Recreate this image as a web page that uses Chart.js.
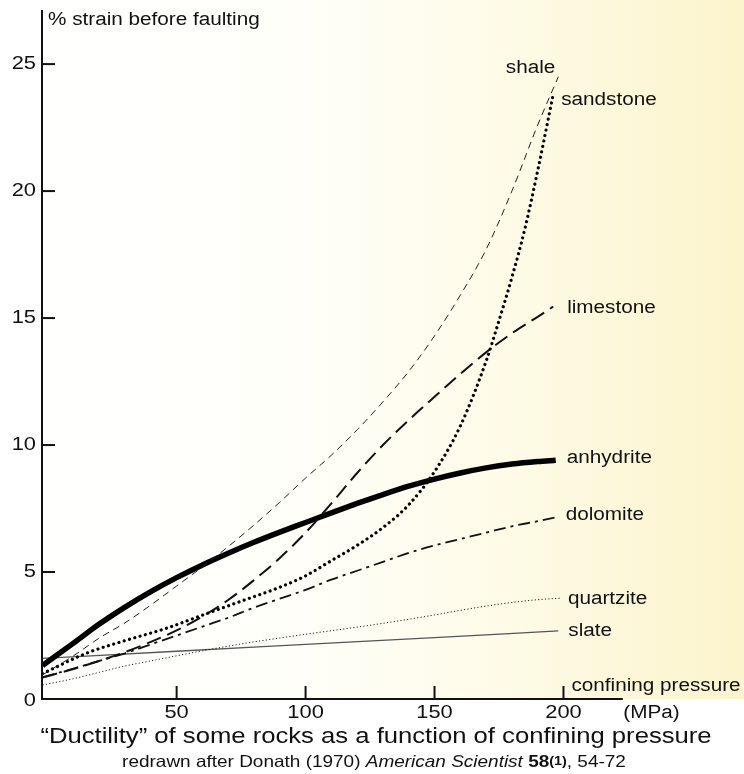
<!DOCTYPE html>
<html>
<head>
<meta charset="utf-8">
<script src="https://cdn.jsdelivr.net/npm/chart.js@4.4.1/dist/chart.umd.min.js"></script>
<style>
body { margin: 0; background: #fff; }
canvas { display: block; }
</style>
</head>
<body>
<canvas id="chart" width="744" height="774"></canvas>
<script>
// Donath (1970): % strain before faulting vs confining pressure (MPa)
const rocks = ['shale', 'sandstone', 'limestone', 'anhydrite', 'dolomite', 'quartzite', 'slate'];

const shaleP = [-2, 10, 20, 30, 40, 50, 60, 70, 80, 90, 100, 110, 120, 130, 140, 150, 160, 170, 180, 190, 198];
const shaleS = [0.95, 1.7, 2.4, 3.0, 3.7, 4.45, 5.2, 6.0, 6.85, 7.75, 8.7, 9.6, 10.6, 11.7, 12.9, 14.3, 15.9, 17.7, 20.0, 22.6, 24.5];

const sandstoneP = [-2, 15, 30, 45, 60, 75, 90, 100, 110, 120, 130, 140, 150, 160, 170, 175, 180, 185, 190, 196];
const sandstoneS = [1.0, 1.8, 2.3, 2.75, 3.3, 3.85, 4.4, 4.85, 5.45, 6.05, 6.75, 7.65, 8.95, 10.75, 13.3, 14.9, 16.6, 18.5, 20.8, 23.8];

const limestoneP = [-2, 10, 20, 30, 40, 50, 60, 70, 80, 90, 100, 110, 120, 130, 140, 150, 160, 170, 180, 190, 196];
const limestoneS = [0.85, 1.18, 1.5, 1.85, 2.25, 2.7, 3.25, 3.9, 4.68, 5.55, 6.55, 7.7, 8.9, 10.0, 10.98, 11.9, 12.8, 13.65, 14.4, 15.05, 15.45];

const anhydriteP = [-2, 10, 20, 30, 40, 50, 60, 70, 80, 90, 100, 110, 120, 130, 140, 150, 160, 170, 180, 190, 197];
const anhydriteS = [1.32, 2.2, 2.95, 3.62, 4.23, 4.78, 5.28, 5.74, 6.17, 6.57, 6.95, 7.33, 7.7, 8.05, 8.38, 8.66, 8.9, 9.1, 9.25, 9.35, 9.4];

const dolomiteP = [-2, 10, 20, 30, 40, 50, 60, 70, 80, 90, 100, 110, 120, 130, 140, 150, 160, 170, 180, 190, 197];
const dolomiteS = [0.85, 1.2, 1.5, 1.8, 2.15, 2.5, 2.85, 3.2, 3.6, 3.95, 4.3, 4.7, 5.05, 5.4, 5.75, 6.05, 6.3, 6.55, 6.8, 7.0, 7.15];

const quartziteP = [-2, 10, 20, 30, 40, 50, 60, 70, 80, 90, 100, 110, 120, 130, 140, 150, 160, 170, 180, 190, 199];
const quartziteS = [0.55, 0.8, 1.05, 1.3, 1.5, 1.7, 1.9, 2.08, 2.25, 2.4, 2.55, 2.69, 2.83, 2.98, 3.14, 3.31, 3.49, 3.66, 3.8, 3.91, 3.97];

const slateP = [-2, 50, 100, 150, 198];
const slateS = [1.6, 1.88, 2.15, 2.42, 2.68];

const xTicks = [50, 100, 150, 200];
const yTicks = [0, 5, 10, 15, 20, 25];

const FONT = '"Liberation Sans", Arial, sans-serif';
const SX = 1.15; // текст в оригинале чуть растянут по горизонтали

function pts(p, s) {
    return p.map((v, i) => ({ x: v, y: s[i] }));
}

// стили линий
const styles = {
    shale:     { borderColor: '#222', borderWidth: 1,   borderDash: [7, 5],        lab: [-3, -9, 'right'] },
    sandstone: { borderColor: '#000', borderWidth: 3.2, borderDash: [0.01, 5.5], borderCapStyle: 'round', lab: [8, 5, 'left'] },
    limestone: { borderColor: '#111', borderWidth: 2,   borderDash: [15, 7],       lab: [14, 1, 'left'] },
    anhydrite: { borderColor: '#000', borderWidth: 5.5, borderDash: [],            lab: [11, -2, 'left'] },
    dolomite:  { borderColor: '#111', borderWidth: 1.8, borderDash: [12, 5, 3, 5], lab: [10, -2, 'left'] },
    quartzite: { borderColor: '#222', borderWidth: 1,   borderDash: [1.2, 2.2],    lab: [7, 1, 'left'] },
    slate:     { borderColor: '#555', borderWidth: 1.3, borderDash: [],            lab: [10, 0, 'left'] }
};

const series = {
    shale: pts(shaleP, shaleS),
    sandstone: pts(sandstoneP, sandstoneS),
    limestone: pts(limestoneP, limestoneS),
    anhydrite: pts(anhydriteP, anhydriteS),
    dolomite: pts(dolomiteP, dolomiteS),
    quartzite: pts(quartziteP, quartziteS),
    slate: pts(slateP, slateS)
};

function txt(ctx, s, x, y, align, font) {
    ctx.save();
    ctx.font = font;
    ctx.textAlign = align;
    ctx.textBaseline = 'middle';
    ctx.translate(x, y);
    ctx.scale(SX, 1);
    ctx.fillText(s, 0, 0);
    ctx.restore();
}

const decor = {
    id: 'decor',
    beforeDraw(chart) {
        const { ctx, chartArea: a, scales: { y } } = chart;
        const y0 = y.getPixelForValue(0);
        const g = ctx.createLinearGradient(a.left, 0, a.right, 0);
        g.addColorStop(0, '#ffffff');
        g.addColorStop(0.35, '#fffffa');
        g.addColorStop(0.65, '#fefbe8');
        g.addColorStop(1, '#fcf4cc');
        ctx.save();
        ctx.fillStyle = g;
        ctx.fillRect(a.left, 0, a.right - a.left, y0);
        ctx.restore();
    },
    afterDraw(chart) {
        const { ctx, chartArea: a, scales: { x, y } } = chart;
        const x0 = a.left;
        const y0 = y.getPixelForValue(0);
        const f = px => px + 'px ' + FONT;
        ctx.save();
        ctx.strokeStyle = '#111';
        ctx.fillStyle = '#111';
        ctx.lineWidth = 2;

        // оси
        ctx.beginPath();
        ctx.moveTo(x0, a.top);
        ctx.lineTo(x0, y0);
        ctx.lineTo(x.getPixelForValue(223), y0);
        ctx.stroke();

        yTicks.forEach(v => {
            const py = y.getPixelForValue(v);
            if (v > 0) {
                ctx.beginPath();
                ctx.moveTo(x0, py);
                ctx.lineTo(x0 + 13, py);
                ctx.stroke();
            }
            txt(ctx, String(v), x0 - 6, py + (v === 0 ? 2 : 0), 'right', f(19));
        });

        xTicks.forEach(v => {
            const px = x.getPixelForValue(v);
            ctx.beginPath();
            ctx.moveTo(px, y0);
            ctx.lineTo(px, y0 - 13);
            ctx.stroke();
            txt(ctx, String(v), px, y0 + 14, 'center', f(19));
        });
        const p200 = x.getPixelForValue(200);
        txt(ctx, '(MPa)', p200 + 88, y0 + 14, 'center', f(18));
        txt(ctx, 'confining pressure', p200 + 8, y0 - 13, 'left', f(18));
        txt(ctx, '% strain before faulting', x0 + 6, 20, 'left', f(18));

        // подписи кривых
        chart.data.datasets.forEach(ds => {
            const last = ds.data[ds.data.length - 1];
            const [dx, dy, al] = styles[ds.label].lab;
            txt(ctx, ds.label, x.getPixelForValue(last.x) + dx, y.getPixelForValue(last.y) + dy, al, f(18));
        });

        // заголовки
        txt(ctx, '\u201cDuctility\u201d of some rocks as a function of confining pressure', 376, 737, 'center', f(22.3));

        const parts = [
            [f(16.5), 'redrawn after Donath (1970) '],
            ['italic ' + f(16.5), 'American Scientist'],
            [f(16.5), ' '],
            ['bold ' + f(16.5), '58'],
            ['bold ' + f(12.5), '(1)'],
            [f(16.5), ', 54-72']
        ];
        let w = 0;
        parts.forEach(p => { ctx.font = p[0]; w += ctx.measureText(p[1]).width * SX; });
        let cx = 374 - w / 2;
        parts.forEach(p => {
            txt(ctx, p[1], cx, 762, 'left', p[0]);
            ctx.font = p[0];
            cx += ctx.measureText(p[1]).width * SX;
        });
        ctx.restore();
    }
};

const ctx = document.getElementById('chart').getContext('2d');
const chart = new Chart(ctx, {
    type: 'line',
    data: {
        datasets: rocks.map(r => ({
            label: r,
            data: series[r],
            borderColor: styles[r].borderColor,
            borderWidth: styles[r].borderWidth,
            borderDash: styles[r].borderDash,
            borderCapStyle: styles[r].borderCapStyle || 'butt',
            pointRadius: 0,
            fill: false,
            cubicInterpolationMode: 'monotone'
        }))
    },
    options: {
        responsive: false,
        animation: false,
        events: [],
        layout: { padding: { left: 42, top: 10, right: 0, bottom: 75 } },
        plugins: { legend: { display: false }, tooltip: { enabled: false } },
        scales: {
            x: { type: 'linear', display: false, min: -2.2, max: 270 },
            y: { type: 'linear', display: false, min: 0, max: 27.13 }
        }
    },
    plugins: [decor]
});
</script>
</body>
</html>
